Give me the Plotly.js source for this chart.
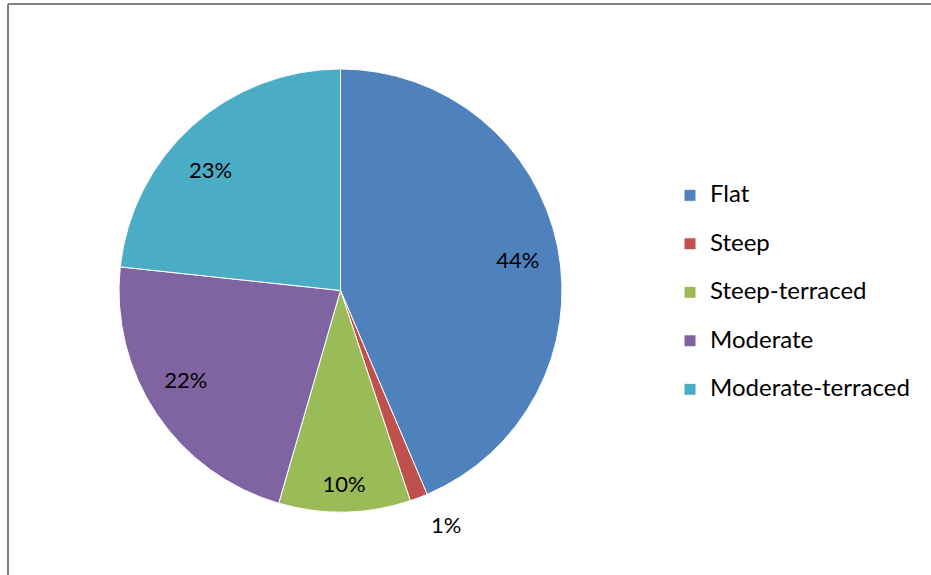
<!DOCTYPE html>
<html>
<head>
<meta charset="utf-8">
<script src="https://cdn.plot.ly/plotly-3.0.1.min.js"></script>
<style>
  html, body { margin: 0; padding: 0; background: #ffffff; }
  #chart { width: 931px; height: 575px; }
</style>
</head>
<body>
<div id="chart"></div>
<script>
// Data
const categories = ["Flat", "Steep", "Steep-terraced", "Moderate", "Moderate-terraced"];
const shares = [43.6, 1.3, 9.6, 22.2, 23.3];
const sliceColors = ["#4F81BD", "#C0504D", "#9BBB59", "#8064A2", "#4BACC6"];
// label placement per slice: "ring" = around a smaller transparent pie,
// "low" = inside a larger transparent pie, "out" = beside the pie
const labelPlacement = ["ring", "out", "low", "ring", "ring"];

const W = 931, H = 575;
const CX = 340.5, CY = 290.5, R = 221.5;
const legendFontSize = 17.5;
const legendTextSize = 24;
const fontFam = "Lato, 'DejaVu Sans', sans-serif";
const pctFont = { family: fontFam, size: 22, color: "#000000" };

function domainFor(r) {
  return { x: [(CX - r) / W, (CX + r) / W], y: [1 - (CY + r) / H, 1 - (CY - r) / H] };
}

// Legend labels (blank first line used to space entries like the reference)
const legendLabels = categories.map(c => '&nbsp;<br><span style="font-size:' + legendTextSize + 'px">' + c + '</span>');

const mainPie = {
  type: "pie",
  labels: legendLabels,
  values: shares,
  sort: false,
  direction: "clockwise",
  rotation: 0,
  marker: { colors: sliceColors, line: { color: "#ffffff", width: 1 } },
  textinfo: "none",
  domain: domainFor(R),
  hoverinfo: "none"
};

// transparent copies of the pie, used only to place the percentage labels
const clear = categories.map(() => "rgba(0,0,0,0)");
function labelPie(radius, positions) {
  return {
    type: "pie",
    labels: categories,
    values: shares,
    sort: false,
    direction: "clockwise",
    rotation: 0,
    showlegend: false,
    marker: { colors: clear, line: { width: 0 } },
    texttemplate: "%{percent:.0%}",
    textposition: positions,
    insidetextorientation: "horizontal",
    outsidetextfont: pctFont,
    insidetextfont: pctFont,
    textfont: pctFont,
    domain: domainFor(radius),
    hoverinfo: "none"
  };
}
const ringLabels = labelPie(152, labelPlacement.map(p => p === "ring" ? "outside" : "none"));
const lowLabels = labelPie(251, labelPlacement.map(p => p === "low" ? "inside" : "none"));
const outerLabels = labelPie(237, labelPlacement.map(p => p === "out" ? "outside" : "none"));

const layout = {
  width: W,
  height: H,
  margin: { l: 0, r: 0, t: 0, b: 0 },
  paper_bgcolor: "#ffffff",
  plot_bgcolor: "#ffffff",
  font: { family: fontFam, color: "#000000" },
  showlegend: true,
  legend: {
    x: 670 / W,
    xanchor: "left",
    y: 0.511,
    yanchor: "middle",
    valign: "bottom",
    font: { family: fontFam, size: legendFontSize, color: "#000000" },
    bgcolor: "rgba(0,0,0,0)"
  },
  shapes: [
    { type: "line", xref: "paper", yref: "paper", x0: 8 / W, x1: 1.01, y0: 1 - 4 / H, y1: 1 - 4 / H, line: { color: "#808080", width: 2 } },
    { type: "line", xref: "paper", yref: "paper", x0: 8 / W, x1: 8 / W, y0: 1 - 4 / H, y1: -0.01, line: { color: "#808080", width: 2 } }
  ]
};

Plotly.newPlot("chart", [mainPie, ringLabels, lowLabels, outerLabels], layout, { displayModeBar: false, staticPlot: true });
</script>
</body>
</html>
